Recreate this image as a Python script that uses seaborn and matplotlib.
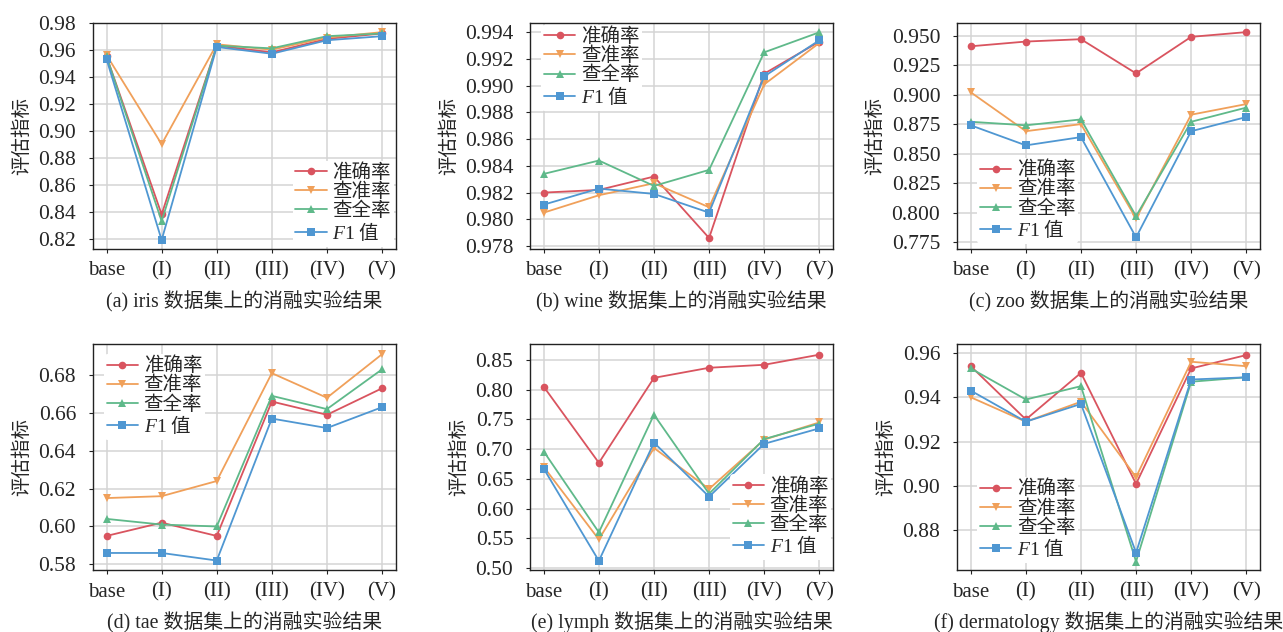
import matplotlib
matplotlib.use("Agg")
import matplotlib.pyplot as plt
import pandas as pd
import seaborn as sns

# x categories and metric names
steps = ["base", "(I)", "(II)", "(III)", "(IV)", "(V)"]
metrics = ["准确率", "查准率", "查全率", r"$F\mathbf{1}$ 值"]

# (a) iris
iris_acc = [0.955, 0.838, 0.963, 0.958, 0.968, 0.972]
iris_pre = [0.956, 0.890, 0.964, 0.960, 0.969, 0.973]
iris_rec = [0.955, 0.833, 0.963, 0.961, 0.970, 0.972]
iris_f1 = [0.953, 0.819, 0.962, 0.957, 0.967, 0.970]

# (b) wine
wine_acc = [0.9820, 0.9822, 0.9832, 0.9786, 0.9909, 0.9933]
wine_pre = [0.9805, 0.9818, 0.9827, 0.9809, 0.9901, 0.9932]
wine_rec = [0.9834, 0.9844, 0.9825, 0.9837, 0.9925, 0.9940]
wine_f1 = [0.9811, 0.9823, 0.9819, 0.9805, 0.9907, 0.9934]

# (c) zoo
zoo_acc = [0.941, 0.945, 0.947, 0.918, 0.949, 0.953]
zoo_pre = [0.902, 0.869, 0.875, 0.795, 0.883, 0.892]
zoo_rec = [0.877, 0.874, 0.879, 0.797, 0.877, 0.889]
zoo_f1 = [0.874, 0.857, 0.864, 0.779, 0.869, 0.881]

# (d) tae
tae_acc = [0.595, 0.602, 0.595, 0.666, 0.659, 0.673]
tae_pre = [0.615, 0.616, 0.624, 0.681, 0.668, 0.691]
tae_rec = [0.604, 0.601, 0.600, 0.669, 0.662, 0.683]
tae_f1 = [0.586, 0.586, 0.582, 0.657, 0.652, 0.663]

# (e) lymph
lymph_acc = [0.805, 0.677, 0.820, 0.837, 0.842, 0.859]
lymph_pre = [0.670, 0.548, 0.702, 0.633, 0.716, 0.745]
lymph_rec = [0.696, 0.560, 0.758, 0.625, 0.717, 0.743]
lymph_f1 = [0.667, 0.512, 0.711, 0.620, 0.709, 0.735]

# (f) dermatology
derm_acc = [0.954, 0.930, 0.951, 0.901, 0.953, 0.959]
derm_pre = [0.940, 0.929, 0.938, 0.904, 0.956, 0.954]
derm_rec = [0.953, 0.939, 0.945, 0.866, 0.947, 0.949]
derm_f1 = [0.943, 0.929, 0.937, 0.870, 0.948, 0.949]

captions = [
    "(a) iris 数据集上的消融实验结果",
    "(b) wine 数据集上的消融实验结果",
    "(c) zoo 数据集上的消融实验结果",
    "(d) tae 数据集上的消融实验结果",
    "(e) lymph 数据集上的消融实验结果",
    "(f) dermatology 数据集上的消融实验结果",
]
yticks = [
    [0.82, 0.84, 0.86, 0.88, 0.90, 0.92, 0.94, 0.96, 0.98],
    [0.978, 0.980, 0.982, 0.984, 0.986, 0.988, 0.990, 0.992, 0.994],
    [0.775, 0.800, 0.825, 0.850, 0.875, 0.900, 0.925, 0.950],
    [0.58, 0.60, 0.62, 0.64, 0.66, 0.68],
    [0.50, 0.55, 0.60, 0.65, 0.70, 0.75, 0.80, 0.85],
    [0.88, 0.90, 0.92, 0.94, 0.96],
]
ylims = [(0.8126, 0.98), (0.9778, 0.99472), (0.7694, 0.961),
         (0.577, 0.6964), (0.4966, 0.877), (0.8622, 0.964)]
yfmt = ["%.2f", "%.3f", "%.3f", "%.2f", "%.2f", "%.2f"]

panels = [
    (iris_acc, iris_pre, iris_rec, iris_f1),
    (wine_acc, wine_pre, wine_rec, wine_f1),
    (zoo_acc, zoo_pre, zoo_rec, zoo_f1),
    (tae_acc, tae_pre, tae_rec, tae_f1),
    (lymph_acc, lymph_pre, lymph_rec, lymph_f1),
    (derm_acc, derm_pre, derm_rec, derm_f1),
]
legend_locs = ["lower right", "upper left", "lower left",
               "upper left", "lower right", "lower left"]
legend_anchor = [(1.0, 0.0), (0.03, 1.0), (0.06, 0.012),
                 (0.03, 0.965), (1.0, 0.035), (0.06, 0.022)]

colors = ["#d9545f", "#f0a05a", "#5fb98a", "#4f97d2"]
markers = ["o", "v", "^", "s"]

sns.set_theme(style="whitegrid")
plt.rcParams["font.family"] = ["Liberation Serif", "Noto Sans CJK SC"]
# italic F from Liberation Serif, upright "1" via \mathbf mapped to regular
plt.rcParams["mathtext.fontset"] = "custom"
plt.rcParams["mathtext.it"] = "Liberation Serif:italic"
plt.rcParams["mathtext.bf"] = "Liberation Serif"
plt.rcParams["mathtext.rm"] = "Liberation Serif"
plt.rcParams["axes.edgecolor"] = "#222222"
plt.rcParams["grid.color"] = "#d4d4d4"
plt.rcParams["grid.linewidth"] = 1.1

fig = plt.figure(figsize=(12.83, 6.32), dpi=100)

lefts = [0.0723, 0.4131, 0.7459]
bottoms = [0.6065, 0.0981]
w, h = 0.2362, 0.3576

for i, vals in enumerate(panels):
    row, col = divmod(i, 3)
    ax = fig.add_axes([lefts[col], bottoms[row], w, h])
    df = pd.DataFrame({
        "step": steps * 4,
        "value": [v for series in vals for v in series],
        "metric": [m for m in metrics for _ in steps],
    })
    sns.lineplot(data=df, x="step", y="value", hue="metric", style="metric",
                 palette=colors, markers=markers, dashes=False,
                 linewidth=1.3, markersize=5.5, markeredgewidth=0,
                 ax=ax)
    ax.set_ylim(*ylims[i])
    ax.set_yticks(yticks[i])
    ax.yaxis.set_major_formatter(plt.FormatStrFormatter(yfmt[i]))
    ax.set_xlim(-0.25, 5.25)
    ax.set_xlabel("")
    ax.set_ylabel("评估指标", fontsize=14, labelpad=5)
    ax.tick_params(axis="y", labelsize=15.5, length=3, width=0.8,
                   color="#222222", pad=9, left=True)
    ax.tick_params(axis="x", labelsize=15, length=3, width=0.8,
                   color="#222222", pad=6, bottom=True)
    for s in ax.spines.values():
        s.set_linewidth(1.0)
    handles, labels = ax.get_legend_handles_labels()
    leg = ax.legend(handles, labels, loc=legend_locs[i],
                    bbox_to_anchor=legend_anchor[i],
                    fontsize=14, frameon=True, facecolor="white",
                    edgecolor="none", framealpha=1.0, borderpad=0.15,
                    labelspacing=0.03, handlelength=1.6, handletextpad=0.3,
                    borderaxespad=0.1)
    # the F1 label needs a CJK default font so that 值 renders in mathtext
    leg.get_texts()[3].set_fontfamily("Noto Sans CJK SC")
    cx = lefts[col] + w / 2
    cy = 0.522 if row == 0 else 0.015
    fig.text(cx, cy, captions[i], ha="center", va="center", fontsize=14.3)

fig.savefig("out.png", dpi=100)
